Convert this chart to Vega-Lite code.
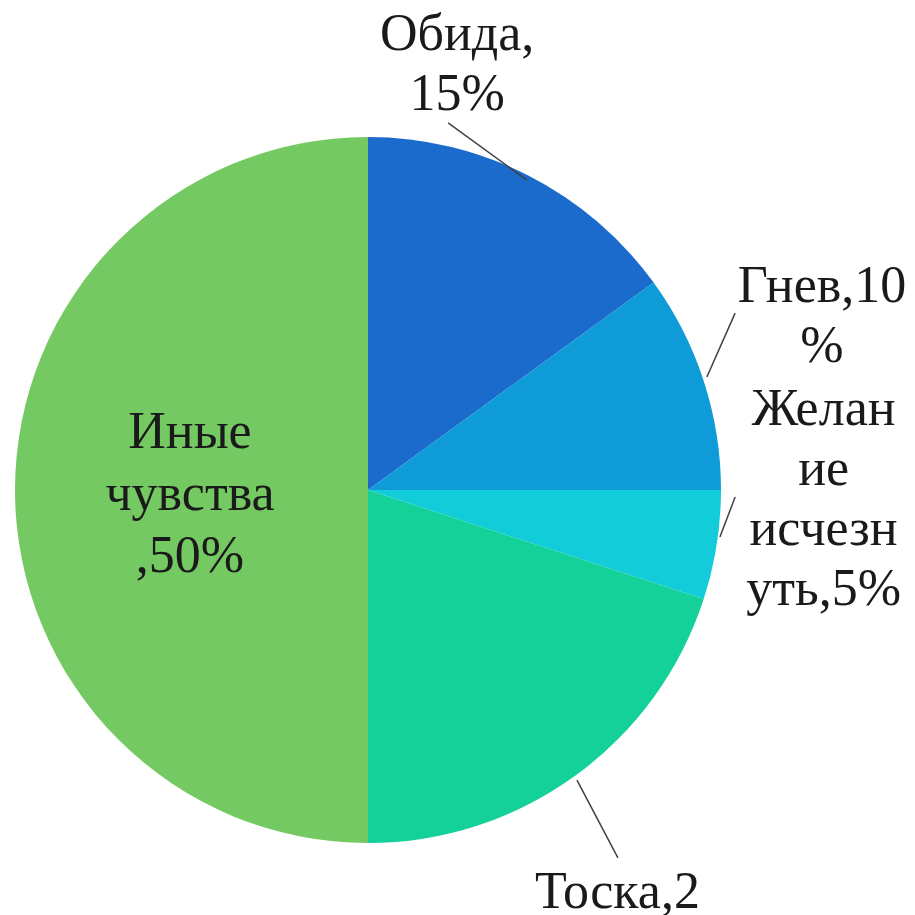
{
  "$schema": "https://vega.github.io/schema/vega-lite/v6.json",
  "width": 706,
  "height": 706,
  "autosize": {"type": "none"},
  "padding": {"left": 15, "top": 137, "right": 194, "bottom": 72},
  "background": "white",
  "config": {"view": {"stroke": null}, "text": {"font": "'Liberation Serif', 'Times New Roman', serif"}},
  "datasets": {
    "slices": [
      {"category": "Обида", "value": 15, "order": 1, "label": "Обида,\n15%"},
      {"category": "Гнев", "value": 10, "order": 2, "label": "Гнев,10\n%"},
      {"category": "Желание исчезнуть", "value": 5, "order": 3, "label": "Желан\nие\nисчезн\nуть,5%"},
      {"category": "Тоска", "value": 20, "order": 4, "label": "Тоска,2\n0%"},
      {"category": "Иные чувства", "value": 50, "order": 5, "label": "Иные\nчувства\n,50%"}
    ],
    "leaders": [
      {"category": "Обида", "x1": 0.227, "y1": 1.040, "x2": 0.450, "y2": 0.878},
      {"category": "Гнев", "x1": 1.040, "y1": 0.501, "x2": 0.960, "y2": 0.320},
      {"category": "Желание исчезнуть", "x1": 1.040, "y1": -0.020, "x2": 0.997, "y2": -0.133},
      {"category": "Тоска", "x1": 0.592, "y1": -0.822, "x2": 0.708, "y2": -1.042}
    ]
  },
  "layer": [
    {
      "data": {"name": "slices"},
      "mark": {"type": "arc"},
      "encoding": {
        "theta": {"field": "value", "type": "quantitative", "stack": true},
        "order": {"field": "order", "type": "quantitative"},
        "color": {
          "field": "category",
          "type": "nominal",
          "legend": null,
          "scale": {
            "domain": ["Обида", "Гнев", "Желание исчезнуть", "Тоска", "Иные чувства"],
            "range": ["#1A6BCB", "#0E9BD8", "#12CCDA", "#14D199", "#74C962"]
          }
        }
      }
    },
    {
      "data": {"name": "leaders"},
      "mark": {"type": "rule", "color": "#404040", "strokeWidth": 1.5},
      "encoding": {
        "x": {"field": "x1", "type": "quantitative", "scale": {"domain": [-1, 1], "nice": false, "zero": false}, "axis": null},
        "y": {"field": "y1", "type": "quantitative", "scale": {"domain": [-1, 1], "nice": false, "zero": false}, "axis": null},
        "x2": {"field": "x2"},
        "y2": {"field": "y2"}
      }
    },
    {
      "data": {"name": "slices"},
      "mark": {"type": "text", "radius": 432, "dx": -107, "dy": -55, "font": "'Liberation Serif', 'Times New Roman', serif", "fontSize": 52, "lineHeight": 60, "lineBreak": "\n", "align": "center", "baseline": "alphabetic", "color": "#1a1a1a"},
      "encoding": {
        "theta": {"field": "value", "type": "quantitative", "stack": true},
        "order": {"field": "order", "type": "quantitative"},
        "detail": {"field": "category", "type": "nominal"},
        "text": {"condition": {"test": "datum.category === 'Обида'", "field": "label"}, "value": ""}
      }
    },
    {
      "data": {"name": "slices"},
      "mark": {"type": "text", "radius": 490, "dx": -12, "dy": -37, "font": "'Liberation Serif', 'Times New Roman', serif", "fontSize": 52, "lineHeight": 60, "lineBreak": "\n", "align": "center", "baseline": "alphabetic", "color": "#1a1a1a"},
      "encoding": {
        "theta": {"field": "value", "type": "quantitative", "stack": true},
        "order": {"field": "order", "type": "quantitative"},
        "detail": {"field": "category", "type": "nominal"},
        "text": {"condition": {"test": "datum.category === 'Гнев'", "field": "label"}, "value": ""}
      }
    },
    {
      "data": {"name": "slices"},
      "mark": {"type": "text", "radius": 440, "dx": 21, "dy": -134, "font": "'Liberation Serif', 'Times New Roman', serif", "fontSize": 52, "lineHeight": 60, "lineBreak": "\n", "align": "center", "baseline": "alphabetic", "color": "#1a1a1a"},
      "encoding": {
        "theta": {"field": "value", "type": "quantitative", "stack": true},
        "order": {"field": "order", "type": "quantitative"},
        "detail": {"field": "category", "type": "nominal"},
        "text": {"condition": {"test": "datum.category === 'Желание исчезнуть'", "field": "label"}, "value": ""}
      }
    },
    {
      "data": {"name": "slices"},
      "mark": {"type": "text", "radius": 484, "dx": -35, "dy": 26, "font": "'Liberation Serif', 'Times New Roman', serif", "fontSize": 52, "lineHeight": 60, "lineBreak": "\n", "align": "center", "baseline": "alphabetic", "color": "#1a1a1a"},
      "encoding": {
        "theta": {"field": "value", "type": "quantitative", "stack": true},
        "order": {"field": "order", "type": "quantitative"},
        "detail": {"field": "category", "type": "nominal"},
        "text": {"condition": {"test": "datum.category === 'Тоска'", "field": "label"}, "value": ""}
      }
    },
    {
      "data": {"name": "slices"},
      "mark": {"type": "text", "radius": 178, "dx": 0, "dy": -42, "font": "'Liberation Serif', 'Times New Roman', serif", "fontSize": 52, "lineHeight": 62, "lineBreak": "\n", "align": "center", "baseline": "alphabetic", "color": "#1a1a1a"},
      "encoding": {
        "theta": {"field": "value", "type": "quantitative", "stack": true},
        "order": {"field": "order", "type": "quantitative"},
        "detail": {"field": "category", "type": "nominal"},
        "text": {"condition": {"test": "datum.category === 'Иные чувства'", "field": "label"}, "value": ""}
      }
    }
  ]
}
